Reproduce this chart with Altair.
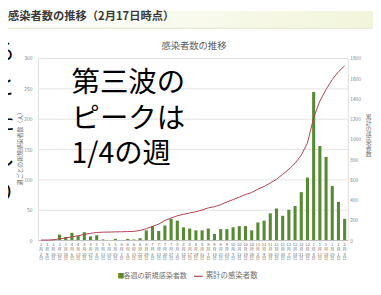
import altair as alt
import pandas as pd

# ---- data ----
weeks = ["3/2", "3/9", "3/16", "3/23", "3/30", "4/6", "4/13", "4/20", "4/27", "5/4",
         "5/11", "5/18", "5/25", "6/1", "6/8", "6/15", "6/22", "6/29", "7/6", "7/13",
         "7/20", "7/27", "8/3", "8/10", "8/17", "8/24", "8/31", "9/7", "9/14", "9/21",
         "9/28", "10/5", "10/12", "10/19", "10/26", "11/2", "11/9", "11/16", "11/23", "11/30",
         "12/7", "12/14", "12/21", "12/28", "1/4", "1/11", "1/18", "1/25", "2/1", "2/8"]
new_cases = [0, 0, 1, 9, 5, 12, 7, 13, 6, 8,
             1, 0, 2, 0, 2, 1, 3, 16, 23, 15,
             24, 35, 32, 21, 19, 16, 16, 19, 10, 18,
             18, 21, 23, 23, 16, 29, 32, 44, 52, 40,
             50, 56, 79, 103, 244, 155, 137, 89, 63, 35]
cumulative = [0, 0, 2, 12, 20, 33, 42, 57, 66, 75,
              78, 79, 81, 82, 84, 86, 95, 112, 135, 158,
              194, 218, 240, 255, 268, 280, 297, 318, 330, 350,
              377, 400, 425, 450, 470, 503, 530, 565, 600, 650,
              700, 760, 840, 960, 1210, 1374, 1490, 1587, 1665, 1723]
left_ticks = [0, 50, 100, 150, 200, 250, 300]
right_ticks = [0, 200, 400, 600, 800, 1000, 1200, 1400, 1600, 1800]

FONT = "Noto Sans CJK JP"

# plot area position on the page
L, T = 38.5, 56.0
W, H = 316.7, 186.0


def px(x):
    return x - L


def py(y):
    return y - T


df = pd.DataFrame({"week": weeks, "new": new_cases, "cum": cumulative})

xenc = alt.X(
    "week:N", sort=weeks,
    scale=alt.Scale(paddingInner=0.5, paddingOuter=0.25),
    axis=alt.Axis(
        title=None, labelAngle=0, labelFontSize=4.2, labelLineHeight=4.8,
        labelColor="#6a6a6a", labelPadding=3, ticks=False, domainColor="#bfbfbf",
        labelOverlap=False, labelBaseline="top", labelFont=FONT,
        labelExpr="[split(datum.label,'/')[0], '月', split(datum.label,'/')[1], '日']",
    ),
)

bars = alt.Chart(df).mark_bar(color="#578a33").encode(
    x=xenc,
    y=alt.Y("new:Q", scale=alt.Scale(domain=[0, 300], nice=False),
            axis=alt.Axis(values=left_ticks, title=None, labelFontSize=5, labelColor="#808080",
                          grid=True, gridColor="#e3e3e3", domain=False, ticks=False,
                          labelPadding=6)),
)

line = alt.Chart(df).mark_line(color="#b0414f", strokeWidth=1.0).encode(
    x=xenc,
    y=alt.Y("cum:Q", scale=alt.Scale(domain=[0, 1800], nice=False),
            axis=alt.Axis(orient="right", values=right_ticks, format="d", title=None,
                          labelFontSize=5, labelColor="#808080", grid=False, domain=False,
                          ticks=False, labelPadding=2)),
)


def one():
    return pd.DataFrame({"t": ["x"]})


def txt(text, x, y, **kw):
    return alt.Chart(pd.DataFrame({"t": [text]})).mark_text(**kw).encode(
        x=alt.value(x), y=alt.value(y), text="t:N")


header_bg = alt.Chart(one()).mark_rect(
    color=alt.Gradient(gradient="linear",
                       stops=[alt.GradientStop(color="#ffffff", offset=0),
                              alt.GradientStop(color="#f2f5da", offset=1)],
                       x1=0, x2=1, y1=0, y2=0)
).encode(x=alt.value(px(8)), x2=alt.value(px(381)), y=alt.value(py(8)), y2=alt.value(py(25)))

header_line = alt.Chart(one()).mark_rule(color="#dfe4c4", strokeWidth=1).encode(
    x=alt.value(px(8)), x2=alt.value(px(381)), y=alt.value(py(25.5)))

header = txt("感染者数の推移（2月17日時点）", px(8), py(14.5), align="left", baseline="middle",
             fontSize=11.5, fontWeight="bold", color="#3a3a3a", font=FONT)

title = txt("感染者数の推移", px(198), py(44), align="center", baseline="middle",
            fontSize=9.5, color="#606060", font=FONT)

big = txt("第三波の\nピークは\n1/4の週", px(73), py(82), align="left", baseline="middle",
          fontSize=29, lineHeight=36, lineBreak="\n", color="#000000", font=FONT)

left_title = txt("週ごとの新規感染者数（人）", px(20), py(147), align="center", baseline="middle",
                 angle=270, fontSize=6, color="#707070", font=FONT)

right_title = txt("累\n計\nの\n感\n染\n者\n数", px(376.5), py(113), align="center", baseline="top",
                  fontSize=6, lineHeight=6.4, lineBreak="\n", color="#707070", font=FONT)

leg_sq = txt("■", px(120), py(279), align="left", baseline="middle", fontSize=7,
             color="#578a33", font=FONT)
leg_t1 = txt("各週の新規感染者数", px(126), py(279), align="left", baseline="middle",
             fontSize=7.2, color="#707070", font=FONT)
leg_ln = alt.Chart(one()).mark_rule(color="#b0414f", strokeWidth=1.2).encode(
    x=alt.value(px(198)), x2=alt.value(px(207)), y=alt.value(py(279)))
leg_t2 = txt("累計の感染者数", px(210), py(279), align="left", baseline="middle",
             fontSize=7.6, color="#707070", font=FONT)

edge = txt("る\n\nと\n\nた\n\nし\n\nり", px(4), py(40), align="center", baseline="top",
           fontSize=22, lineHeight=36, lineBreak="\n", color="#000000", font=FONT)

chart = alt.layer(
    header_bg, header_line, header, title, bars, line, big, left_title, right_title,
    leg_sq, leg_t1, leg_ln, leg_t2, edge,
).resolve_scale(y="independent").properties(
    width=W, height=H,
    padding={"left": L - 8, "top": T - 8, "right": 373 - (L - 8) - W, "bottom": 287 - (T - 8) - H},
    autosize=alt.AutoSizeParams(type="none"),
    background="#ffffff",
).configure_view(stroke=None).configure(font=FONT)

chart.save("out.html", embed_options={"renderer": "svg", "actions": False})
